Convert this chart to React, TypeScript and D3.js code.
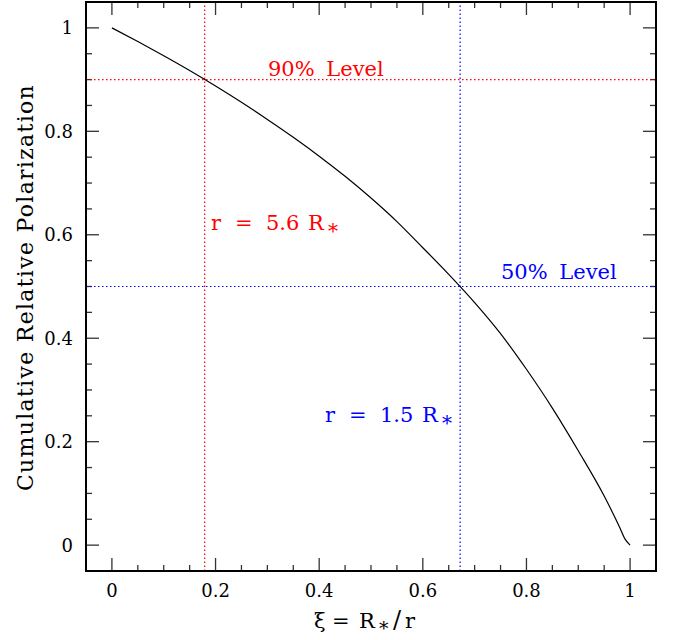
import { useEffect, useRef } from "react";
import * as d3 from "d3";

// curve
const xiValues = [0, 0.05, 0.1, 0.15, 0.2, 0.25, 0.3, 0.35, 0.4, 0.45, 0.5, 0.55, 0.6, 0.65, 0.7, 0.75, 0.8, 0.85, 0.9, 0.95, 0.98, 0.99, 1.0];
const polValues = [1.0, 0.9735, 0.946, 0.9175, 0.8875, 0.856, 0.823, 0.7885, 0.752, 0.713, 0.671, 0.6255, 0.575, 0.5235, 0.469, 0.409, 0.34, 0.265, 0.1825, 0.095, 0.034, 0.012, 0.0];

const xMajorTicks = [0, 0.2, 0.4, 0.6, 0.8, 1];
const yMajorTicks = [0, 0.2, 0.4, 0.6, 0.8, 1];
const minorTicks = [0.05, 0.1, 0.15, 0.25, 0.3, 0.35, 0.45, 0.5, 0.55, 0.65, 0.7, 0.75, 0.85, 0.9, 0.95];

const level90 = 0.9;
const level50 = 0.5;
const xi90 = 0.179;
const xi50 = 0.672;

const FONT = "'DejaVu Serif', serif";

export default function App() {
  const svgRef = useRef<SVGSVGElement>(null);

  useEffect(() => {
    if (!svgRef.current) return;
    const W = 678, H = 640;
    const margin = { top: 2, right: 22, bottom: 69, left: 86 };

    d3.select(svgRef.current).selectAll("*").remove();
    const svg = d3.select(svgRef.current).attr("width", W).attr("height", H);

    const x = d3.scaleLinear().domain([-0.05, 1.05]).range([margin.left, W - margin.right]);
    const y = d3.scaleLinear().domain([-0.05, 1.05]).range([H - margin.bottom, margin.top]);

    const x0 = margin.left, x1 = W - margin.right, y0 = H - margin.bottom, y1 = margin.top;

    // ticks on all four sides, pointing in
    const tickG = svg.append("g").attr("stroke", "#333").attr("stroke-width", 1.3);
    const addX = (vals: number[], len: number) => {
      vals.forEach(v => {
        tickG.append("line").attr("x1", x(v)).attr("x2", x(v)).attr("y1", y0).attr("y2", y0 - len);
        tickG.append("line").attr("x1", x(v)).attr("x2", x(v)).attr("y1", y1).attr("y2", y1 + len);
      });
    };
    const addY = (vals: number[], len: number) => {
      vals.forEach(v => {
        tickG.append("line").attr("y1", y(v)).attr("y2", y(v)).attr("x1", x0).attr("x2", x0 + len);
        tickG.append("line").attr("y1", y(v)).attr("y2", y(v)).attr("x1", x1).attr("x2", x1 - len);
      });
    };
    addX(xMajorTicks, 13);
    addX(minorTicks, 6);
    addY(yMajorTicks, 13);
    addY(minorTicks, 6);

    // reference levels
    const dots = "1.5,2.5";
    svg.append("line").attr("x1", x0).attr("x2", x1).attr("y1", y(level90)).attr("y2", y(level90))
      .attr("stroke", "#ff0000").attr("stroke-dasharray", dots).attr("stroke-width", 1.2);
    svg.append("line").attr("x1", x(xi90)).attr("x2", x(xi90)).attr("y1", y0).attr("y2", y1)
      .attr("stroke", "#ff0000").attr("stroke-dasharray", dots).attr("stroke-width", 1.2);
    svg.append("line").attr("x1", x0).attr("x2", x1).attr("y1", y(level50)).attr("y2", y(level50))
      .attr("stroke", "#0000ff").attr("stroke-dasharray", dots).attr("stroke-width", 1.2);
    svg.append("line").attr("x1", x(xi50)).attr("x2", x(xi50)).attr("y1", y0).attr("y2", y1)
      .attr("stroke", "#0000ff").attr("stroke-dasharray", dots).attr("stroke-width", 1.2);

    // curve
    const pts: [number, number][] = xiValues.map((v, i) => [v, polValues[i]]);
    const line = d3.line<[number, number]>()
      .x(d => x(d[0]))
      .y(d => y(d[1]))
      .curve(d3.curveMonotoneX);
    svg.append("path").datum(pts).attr("d", line).attr("fill", "none")
      .attr("stroke", "#000").attr("stroke-width", 1.2);

    // frame
    svg.append("rect").attr("x", x0).attr("y", y1).attr("width", x1 - x0).attr("height", y0 - y1)
      .attr("fill", "none").attr("stroke", "#000").attr("stroke-width", 2);

    // tick labels
    svg.append("g").selectAll("text").data(xMajorTicks).enter().append("text")
      .attr("x", d => x(d)).attr("y", y0 + 26).attr("text-anchor", "middle")
      .attr("font-family", FONT).attr("font-size", 18).text(d => String(d));
    svg.append("g").selectAll("text").data(yMajorTicks).enter().append("text")
      .attr("x", x0 - 13).attr("y", d => y(d)).attr("dy", "0.36em").attr("text-anchor", "end")
      .attr("font-family", FONT).attr("font-size", 18).text(d => String(d));

    // annotations
    const level = (tx: number, ty: number, color: string, txt: string) => {
      svg.append("text").attr("x", tx).attr("y", ty).attr("fill", color)
        .attr("font-family", FONT).attr("font-size", 21).attr("word-spacing", 5)
        .text(txt);
    };
    level(268, 76, "#ff0000", "90% Level");
    level(501, 279, "#0000ff", "50% Level");

    const radius = (tx: number, ty: number, color: string, val: string) => {
      const g = svg.append("g").attr("fill", color).attr("font-family", FONT).attr("font-size", 21);
      g.append("text").attr("x", tx).attr("y", ty).text("r");
      g.append("text").attr("x", tx + 24).attr("y", ty).text("=");
      g.append("text").attr("x", tx + 55).attr("y", ty).text(val);
      g.append("text").attr("x", tx + 97).attr("y", ty).text("R");
      g.append("text").attr("x", tx + 117).attr("y", ty + 8).attr("font-size", 20).text("*");
    };
    radius(211, 230, "#ff0000", "5.6");
    radius(325, 422, "#0000ff", "1.5");

    // axis titles
    const xt = svg.append("g").attr("font-family", FONT).attr("font-size", 21);
    xt.append("text").attr("x", 314).attr("y", 628).text("ξ");
    xt.append("text").attr("x", 332).attr("y", 628).text("=");
    xt.append("text").attr("x", 359).attr("y", 628).text("R");
    xt.append("text").attr("x", 379).attr("y", 635).attr("font-size", 19).text("*");
    xt.append("text").attr("x", 393).attr("y", 628).attr("font-size", 24).text("/");
    xt.append("text").attr("x", 405).attr("y", 628).text("r");

    svg.append("text").attr("transform", `translate(33,${(y0 + y1) / 2 + 1}) rotate(-90)`)
      .attr("text-anchor", "middle").attr("font-family", FONT).attr("font-size", 22)
      .attr("letter-spacing", 1.3)
      .text("Cumulative Relative Polarization");
  }, []);

  return <svg ref={svgRef} style={{ position: "absolute", left: 0, top: 0 }} />;
}
